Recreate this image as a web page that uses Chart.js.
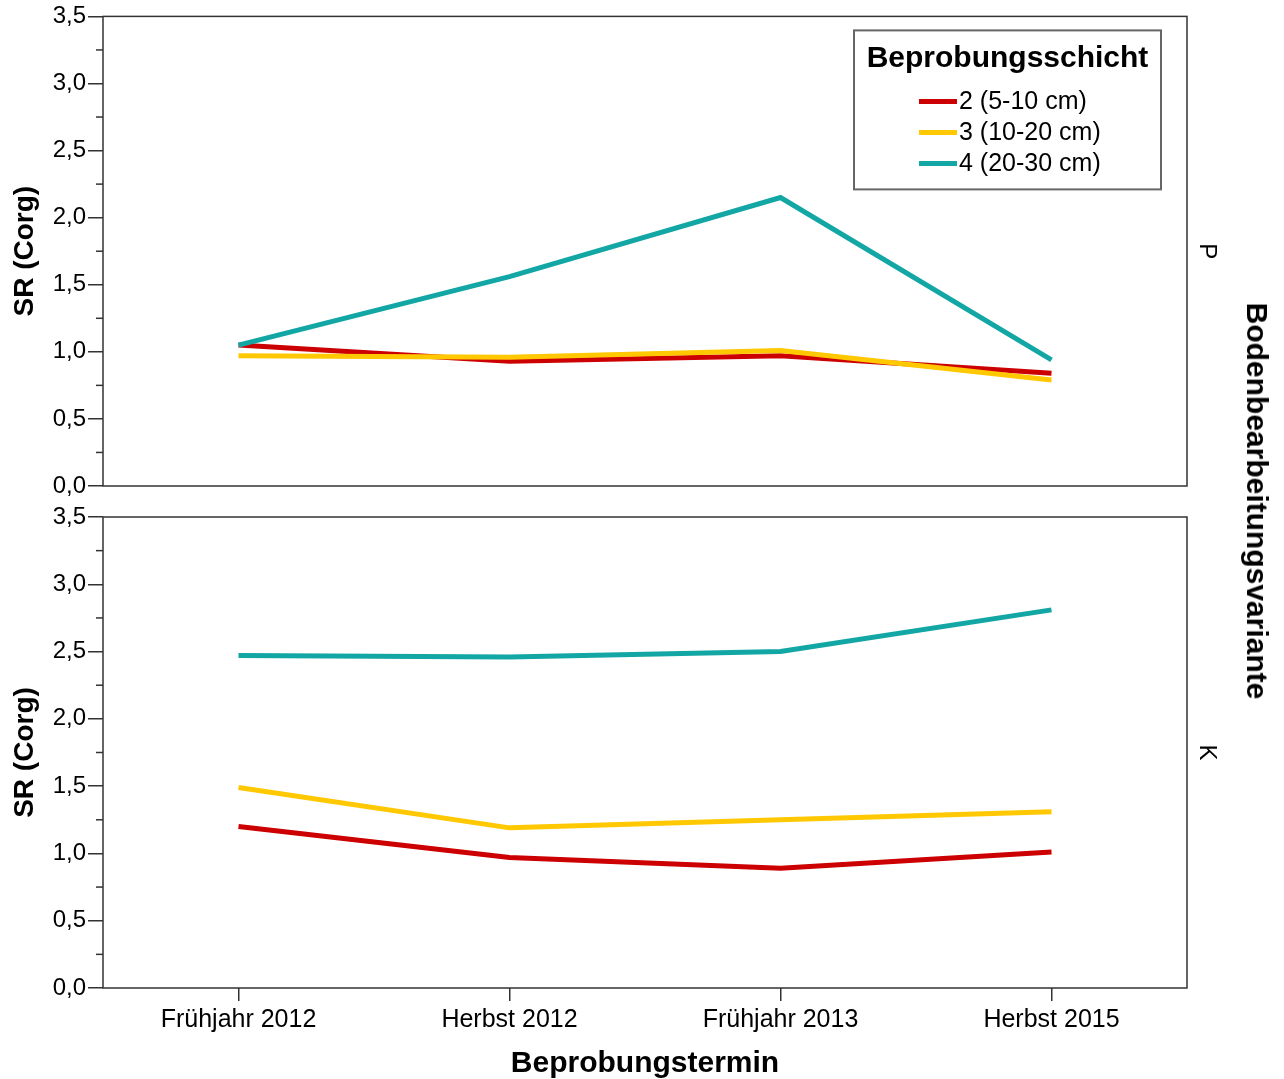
<!DOCTYPE html>
<html>
<head>
<meta charset="utf-8">
<script src="https://cdn.jsdelivr.net/npm/chart.js@4.4.1/dist/chart.umd.min.js"></script>
<style>
  html, body { margin: 0; padding: 0; background: #fff; }
  #wrap { position: relative; width: 1284px; height: 1079px; overflow: hidden; }
  canvas { position: absolute; left: 0; }
  #chart-p { top: 0; }
  #chart-k { top: 500px; }
  #facet-title {
    position: absolute; left: 1257px; top: 501px;
    transform: translate(-50%, -50%) rotate(90deg);
    font: bold 30px "Liberation Sans", Arial, sans-serif;
    white-space: nowrap; color: #000;
  }
</style>
</head>
<body>
<div id="wrap">
  <canvas id="chart-p" width="1284" height="503"></canvas>
  <canvas id="chart-k" width="1284" height="579"></canvas>
  <div id="facet-title">Bodenbearbeitungsvariante</div>
</div>
<script>
var categories = ["Frühjahr 2012", "Herbst 2012", "Frühjahr 2013", "Herbst 2015"];
var layerLabels = ["2 (5-10 cm)", "3 (10-20 cm)", "4 (20-30 cm)"];
var legendTitle = "Beprobungsschicht";
var yTitle = "SR (Corg)";
var xTitle = "Beprobungstermin";

// Variante P
var p_layer2 = [1.05, 0.93, 0.97, 0.84];
var p_layer3 = [0.97, 0.96, 1.01, 0.79];
var p_layer4 = [1.05, 1.56, 2.15, 0.94];
// Variante K
var k_layer2 = [1.20, 0.97, 0.89, 1.01];
var k_layer3 = [1.49, 1.19, 1.25, 1.31];
var k_layer4 = [2.47, 2.46, 2.50, 2.81];

var colors = ["#cc0000", "#ffc800", "#12a7a4"];
var fontFamily = '"Liberation Sans", Arial, sans-serif';
Chart.defaults.font.family = fontFamily;
Chart.defaults.color = "#000";

function makeDatasets(a, b, c) {
    var vals = [a, b, c];
    var out = [];
    for (let i = 0; i < vals.length; i++) {
        out.push({
            label: layerLabels[i],
            data: vals[i],
            borderColor: colors[i],
            backgroundColor: colors[i],
            borderWidth: 5,
            pointRadius: 0,
            tension: 0,
            order: 2 - i,
        });
    }
    return out;
}

var framePlugin = {
    id: "frame",
    afterDraw: function(chart, args, opts) {
        var ctx = chart.ctx;
        var a = chart.chartArea;
        var y = chart.scales.y;
        ctx.save();
        ctx.strokeStyle = "#333";
        ctx.lineWidth = 1.5;
        ctx.strokeRect(a.left, a.top, a.right - a.left, a.bottom - a.top);
        // minor ticks
        for (let v = 0.25; v < 3.5; v += 0.5) {
            var py = y.getPixelForValue(v);
            ctx.beginPath();
            ctx.moveTo(a.left - 7, py);
            ctx.lineTo(a.left, py);
            ctx.stroke();
        }
        // strip label on the right
        ctx.fillStyle = "#000";
        ctx.font = "24px " + fontFamily;
        ctx.textAlign = "center";
        ctx.textBaseline = "middle";
        ctx.translate(a.right + 20, (a.top + a.bottom) / 2);
        ctx.rotate(Math.PI / 2);
        ctx.fillText(opts.strip, 0, 0);
        ctx.restore();
    }
};

var legendPlugin = {
    id: "boxLegend",
    afterDraw: function(chart, args, opts) {
        if (!opts.show) return;
        var ctx = chart.ctx;
        var a = chart.chartArea;
        var bx = a.left + 751, by = a.top + 14, bw = 307, bh = 159;
        ctx.save();
        ctx.fillStyle = "#fff";
        ctx.fillRect(bx, by, bw, bh);
        ctx.strokeStyle = "#666";
        ctx.lineWidth = 2;
        ctx.strokeRect(bx, by, bw, bh);
        ctx.fillStyle = "#000";
        ctx.textBaseline = "middle";
        ctx.textAlign = "center";
        ctx.font = "bold 30px " + fontFamily;
        ctx.fillText(legendTitle, bx + bw / 2, by + 28);
        ctx.textAlign = "left";
        ctx.font = "25px " + fontFamily;
        var ds = chart.data.datasets;
        for (let i = 0; i < ds.length; i++) {
            var ly = by + 71 + i * 31;
            ctx.strokeStyle = ds[i].borderColor;
            ctx.lineWidth = 5;
            ctx.beginPath();
            ctx.moveTo(bx + 65, ly);
            ctx.lineTo(bx + 103, ly);
            ctx.stroke();
            ctx.fillText(ds[i].label, bx + 105, ly + 1);
        }
        ctx.restore();
    }
};

function yScale() {
    return {
        min: 0,
        max: 3.5,
        afterFit: function(s) { s.width = 103; },
        ticks: {
            stepSize: 0.5,
            padding: 2,
            font: { size: 24 },
            color: "#000",
            callback: function(v) { return Number(v).toFixed(1).replace(".", ","); },
        },
        grid: { drawOnChartArea: false, tickLength: 15, color: "#333", lineWidth: 1.5 },
        border: { display: false },
        title: {
            display: true,
            text: yTitle,
            font: { size: 28, weight: "bold" },
            padding: { top: 8 },
            color: "#000",
        },
    };
}

var ctxP = document.getElementById("chart-p").getContext("2d");
var chartP = new Chart(ctxP, {
    type: "line",
    data: { labels: categories, datasets: makeDatasets(p_layer2, p_layer3, p_layer4) },
    options: {
        responsive: false,
        animation: false,
        layout: { padding: { top: 15, right: 97, bottom: 17, left: 0 } },
        plugins: {
            legend: { display: false },
            tooltip: { enabled: false },
            frame: { strip: "P" },
            boxLegend: { show: true },
        },
        scales: {
            x: { display: false, offset: true },
            y: yScale(),
        },
    },
    plugins: [framePlugin, legendPlugin],
});

var ctxK = document.getElementById("chart-k").getContext("2d");
var chartK = new Chart(ctxK, {
    type: "line",
    data: { labels: categories, datasets: makeDatasets(k_layer2, k_layer3, k_layer4) },
    options: {
        responsive: false,
        animation: false,
        layout: { padding: { top: 17, right: 97, bottom: 0, left: 0 } },
        plugins: {
            legend: { display: false },
            tooltip: { enabled: false },
            frame: { strip: "K" },
            boxLegend: { show: false },
        },
        scales: {
            x: {
                offset: true,
                afterFit: function(s) { s.height = 91; },
                ticks: { font: { size: 25 }, padding: 4, color: "#000", maxRotation: 0 },
                grid: { drawOnChartArea: false, tickLength: 13, color: "#333", lineWidth: 1.5 },
                border: { display: false },
                title: {
                    display: true,
                    text: xTitle,
                    font: { size: 30, weight: "bold", lineHeight: 1 },
                    padding: { top: 0, bottom: 0 },
                    color: "#000",
                },
            },
            y: yScale(),
        },
    },
    plugins: [framePlugin, legendPlugin],
});
</script>
</body>
</html>
